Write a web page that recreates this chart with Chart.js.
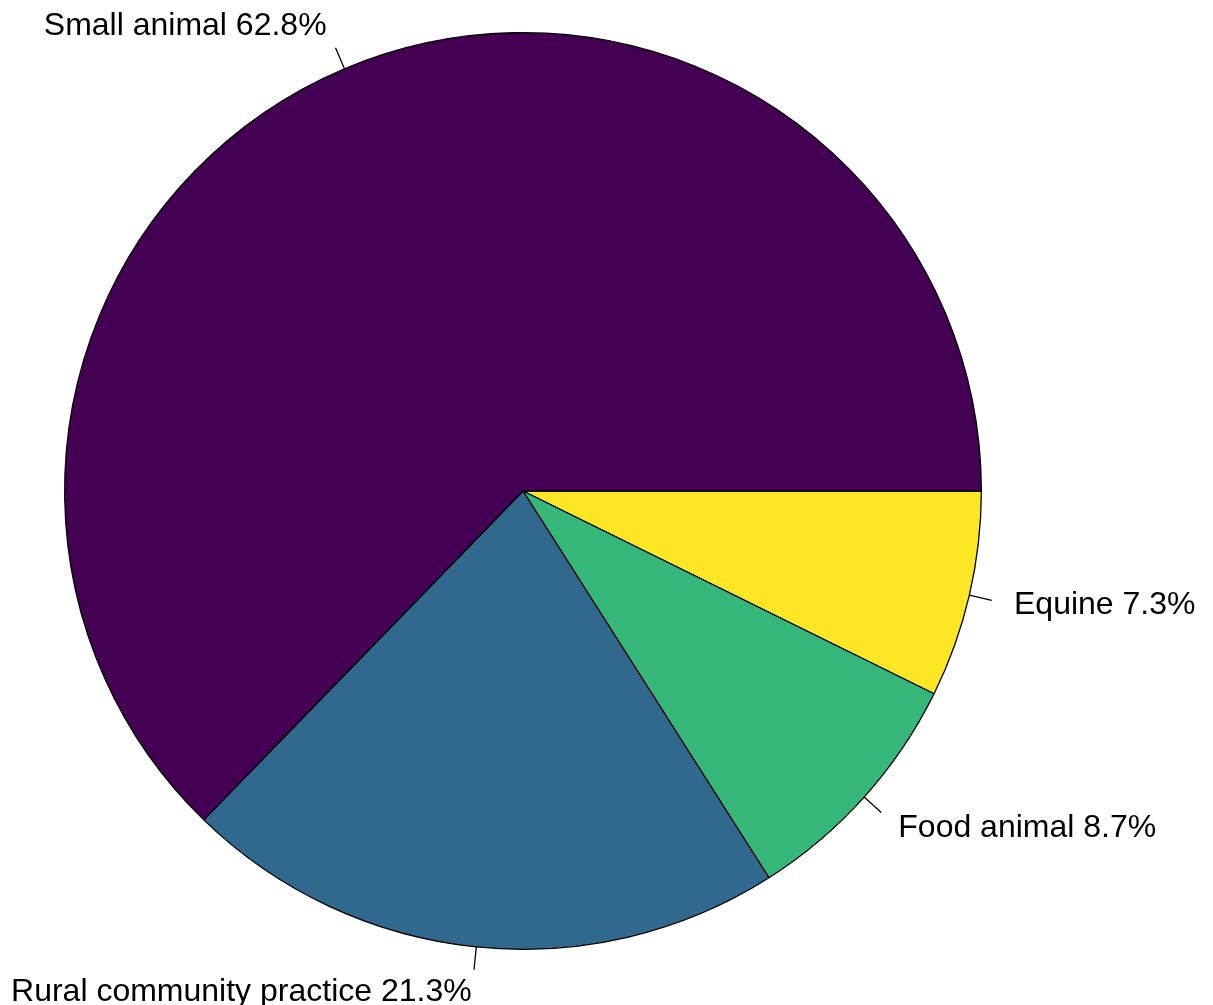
<!DOCTYPE html>
<html>
<head>
<meta charset="utf-8">
<script src="https://cdn.jsdelivr.net/npm/chart.js@4"></script>
<style>
  html, body { margin: 0; padding: 0; background: #fff; }
  #wrap { width: 1213px; height: 1005px; position: relative; }
</style>
</head>
<body>
<div id="wrap"><canvas id="pie-chart"></canvas></div>
<script>
// slices listed clockwise from 3 o'clock (R draws them counter-clockwise)
const labels = ["Equine", "Food animal", "Rural community practice", "Small animal"];
const values = [7.3, 8.7, 21.3, 62.8];
const colors = ["#FDE725", "#35B779", "#31688E", "#440154"];

// R style pie labels: short tick from 1.0r to 1.05r, text at 1.1r
const pieLabels = {
  id: "pieLabels",
  afterDatasetsDraw(chart) {
    const ctx = chart.ctx;
    const meta = chart.getDatasetMeta(0);
    ctx.save();
    ctx.font = "32px 'Liberation Sans', Arial, sans-serif";
    ctx.fillStyle = "#000";
    ctx.strokeStyle = "#000";
    ctx.lineWidth = 1.3;
    ctx.textBaseline = "middle";
    meta.data.forEach((arc, i) => {
      const mid = (arc.startAngle + arc.endAngle) / 2;
      const r = arc.outerRadius;
      const cx = arc.x, cy = arc.y;
      const c = Math.cos(mid), s = Math.sin(mid);
      ctx.beginPath();
      ctx.moveTo(cx + c * r, cy + s * r);
      ctx.lineTo(cx + c * r * 1.05, cy + s * r * 1.05);
      ctx.stroke();
      ctx.textAlign = c >= 0 ? "left" : "right";
      ctx.fillText(labels[i] + " " + values[i].toFixed(1) + "%", cx + c * r * 1.1, cy + s * r * 1.1);
    });
    ctx.restore();
  }
};

new Chart(document.getElementById("pie-chart").getContext("2d"), {
  type: "pie",
  data: {
    labels: labels,
    datasets: [{
      data: values,
      backgroundColor: colors,
      borderColor: "#000",
      borderWidth: 1.3,
      borderAlign: "center"
    }]
  },
  options: {
    responsive: true,
    maintainAspectRatio: false,
    animation: false,
    rotation: 90,
    layout: { padding: { left: 64, right: 231, top: 32, bottom: 55 } },
    plugins: {
      legend: { display: false },
      tooltip: { enabled: false }
    }
  },
  plugins: [pieLabels]
});
</script>
</body>
</html>
